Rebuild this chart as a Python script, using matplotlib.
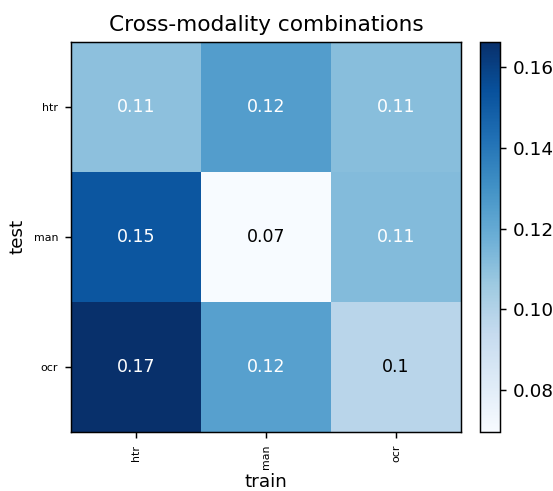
import numpy as np
import matplotlib
matplotlib.use("Agg")
import matplotlib.pyplot as plt

# --- Data ---
train_labels = ["htr", "man", "ocr"]
test_labels = ["htr", "man", "ocr"]
row_htr = [0.110, 0.125, 0.111]
row_man = [0.152, 0.0697, 0.112]
row_ocr = [0.1663, 0.124, 0.098]

scores = np.array([row_htr, row_man, row_ocr])

# --- Plot ---
DPI = 132
fig = plt.figure(figsize=(553 / DPI, 491 / DPI), dpi=DPI)
ax = fig.add_axes([71 / 553, 1 - 431.7 / 491, 390 / 553, 390 / 491])
cax = fig.add_axes([480 / 553, 1 - 431.7 / 491, 20 / 553, 390 / 491])

im = ax.imshow(scores, cmap="Blues", aspect="auto")
cbar = fig.colorbar(im, cax=cax)
cbar.ax.tick_params(labelsize=10)

ax.set_xticks(np.arange(len(train_labels)))
ax.set_yticks(np.arange(len(test_labels)))
ax.set_xticklabels(train_labels, rotation=90, fontsize=6)
ax.set_yticklabels(test_labels, fontsize=6)

thresh = 0.105
for i in range(scores.shape[0]):
    for j in range(scores.shape[1]):
        val = scores[i, j]
        ax.text(j, i, str(round(val, 2)), ha="center", va="center",
                color="white" if val > thresh else "black", fontsize=9.5)

ax.set_title("Cross-modality combinations", fontsize=11.8)
# smaller pad so the label isn't clipped at the bottom edge
ax.set_xlabel("train", fontsize=10, labelpad=2.2)
ax.set_ylabel("test", fontsize=10)

plt.savefig("out.png", dpi=DPI)
